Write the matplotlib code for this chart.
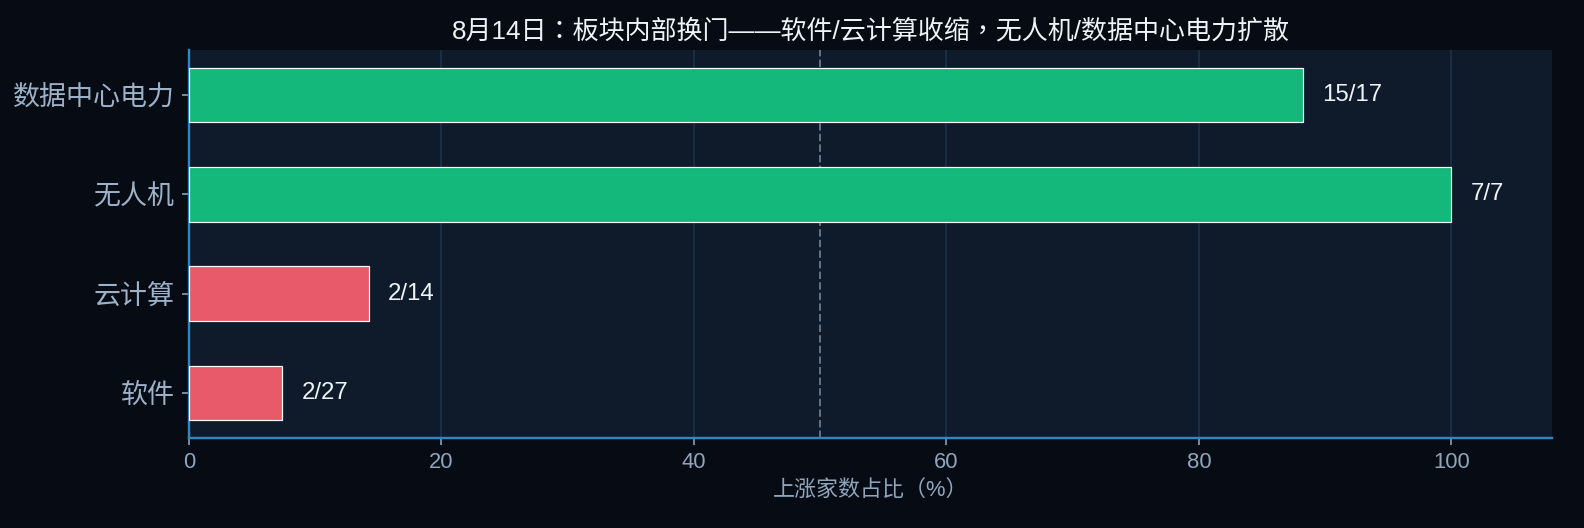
import matplotlib
matplotlib.use("Agg")
import matplotlib.pyplot as plt

plt.rcParams['font.family'] = ['Liberation Sans', 'Noto Sans CJK TC', 'DejaVu Sans']

# data (bottom to top)
sectors = ['软件', '云计算', '无人机', '数据中心电力']
up_counts = [2, 2, 7, 15]
totals = [27, 14, 7, 17]
pct = [u / t * 100 for u, t in zip(up_counts, totals)]
labels = [f'{u}/{t}' for u, t in zip(up_counts, totals)]
bar_colors = ['#e85a6a', '#e85a6a', '#14b87a', '#14b87a']

fig = plt.figure(figsize=(11, 528 / 144), dpi=144, facecolor='#060b14')
ax = fig.add_axes([0.1193, 0.1705, 0.8607, 0.7348])
ax.set_facecolor('#0f1a2b')

ax.barh(range(len(sectors)), pct, height=0.55, color=bar_colors,
        edgecolor='white', linewidth=0.6, zorder=3)
for i, (v, lab) in enumerate(zip(pct, labels)):
    ax.text(v + 1.5, i, lab, va='center', ha='left', fontsize=12,
            color='#eef3f8', zorder=4)

ax.axvline(50, color='#5f7185', linestyle='--', linewidth=1, zorder=2)
ax.grid(axis='x', color='#1a3149', linewidth=0.9, zorder=1)
ax.set_axisbelow(True)

ax.set_xlim(0, 108)
ax.set_yticks(range(len(sectors)))
ax.set_yticklabels(sectors, fontsize=13.5)
ax.set_xticks([0, 20, 40, 60, 80, 100])
ax.tick_params(axis='x', colors='#8fa5bc', labelsize=11)
ax.tick_params(axis='y', colors='#8fa5bc', labelsize=13.5)
for lab in ax.get_yticklabels():
    lab.set_color('#9db2c8')

for s in ['top', 'right']:
    ax.spines[s].set_visible(False)
for s in ['left', 'bottom']:
    ax.spines[s].set_color('#2f86c0')
    ax.spines[s].set_linewidth(1.2)

ax.set_xlabel('上涨家数占比（%）', fontsize=11, color='#8fa5bc')
ax.set_title('8月14日：板块内部换门——软件/云计算收缩，无人机/数据中心电力扩散',
             fontsize=13, color='#eef3f8', pad=6)

fig.savefig('out.png', dpi=144, facecolor=fig.get_facecolor())
